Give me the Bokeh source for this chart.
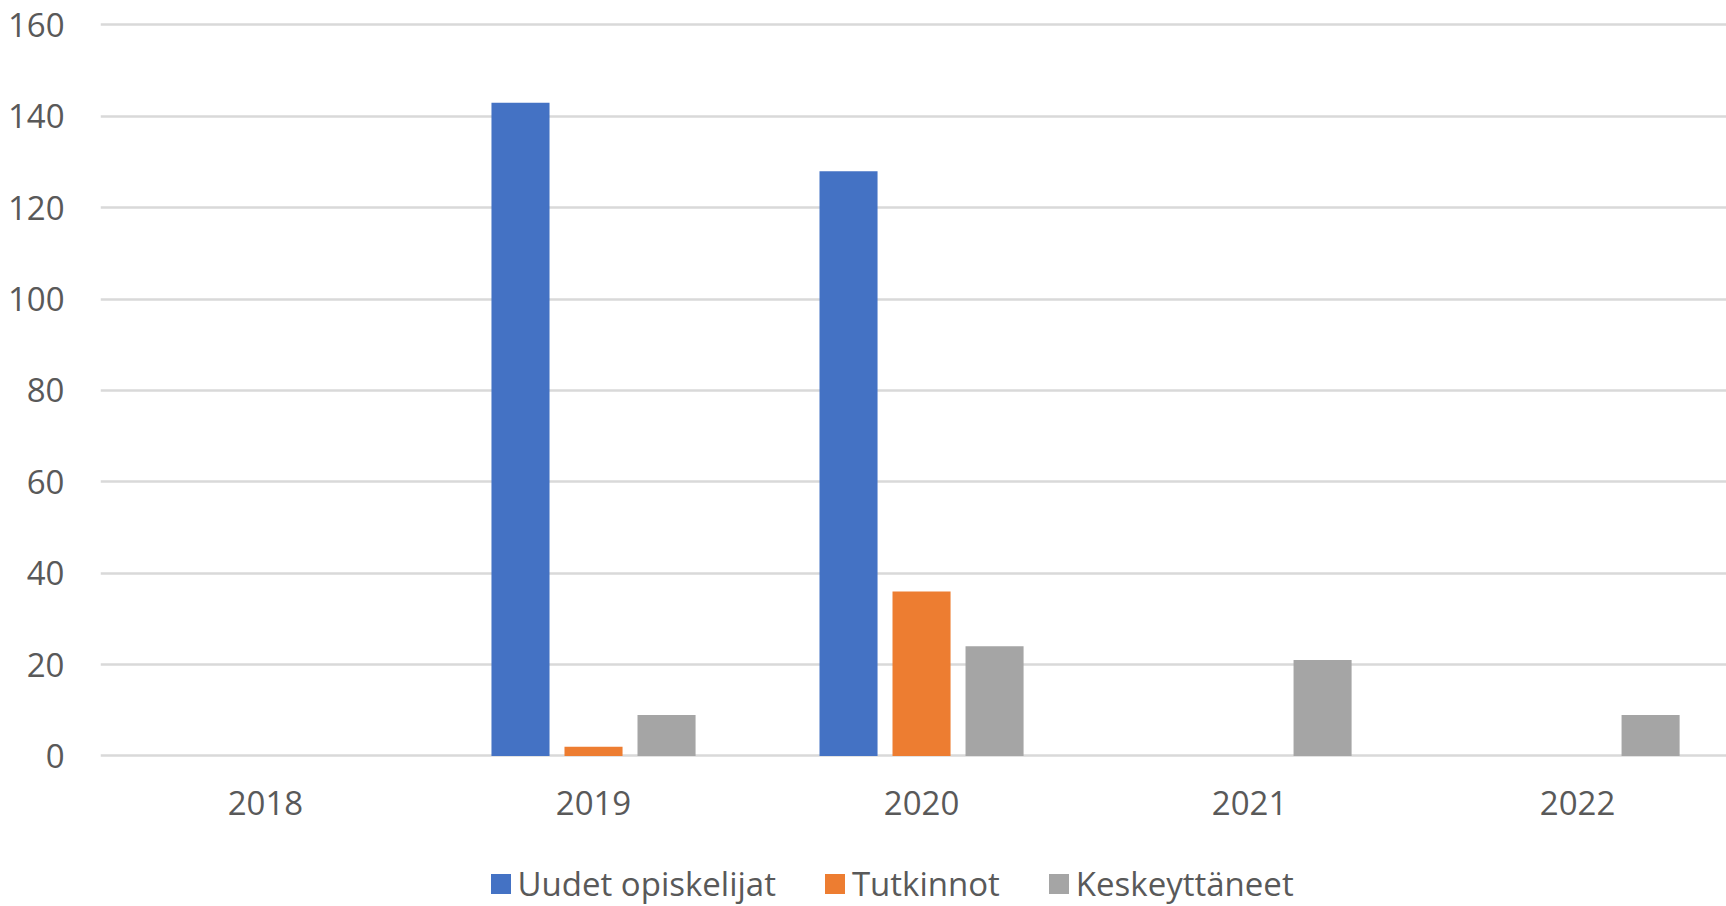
from bokeh.plotting import figure
from bokeh.layouts import column
from bokeh.models import Range1d, FixedTicker, Legend, LegendItem, ColumnDataSource
from bokeh.transform import dodge
from bokeh.embed import file_html
from bokeh.resources import INLINE

# ---- data ----
years = ["2018", "2019", "2020", "2021", "2022"]
uudet_opiskelijat = [0, 143, 128, 0, 0]
tutkinnot = [0, 2, 36, 0, 0]
keskeyttaneet = [0, 9, 24, 21, 9]
series_names = ["Uudet opiskelijat", "Tutkinnot", "Keskeyttäneet"]
y_ticks = [0, 20, 40, 60, 80, 100, 120, 140, 160]

# ---- style ----
COLORS = ["#4472C4", "#ED7D31", "#A5A5A5"]
FONT = "Open Sans"
TEXT = "#595959"
GRID = "#D9D9D9"
BAR_W = 0.177
OFFSET = 0.2226

source = ColumnDataSource(dict(
    x=list(range(len(years))),
    u=uudet_opiskelijat,
    t=tutkinnot,
    k=keskeyttaneet,
))

p = figure(
    width=1726, height=860,
    output_backend="svg", toolbar_location=None,
    x_range=Range1d(-0.503, 4.454),
    y_range=Range1d(-0.985, 161.86),
    min_border_left=100, min_border_right=0,
    min_border_top=16, min_border_bottom=100,
)
p.outline_line_color = None
p.background_fill_color = "white"
p.border_fill_color = "white"

for col, off, color in zip(["u", "t", "k"], [-OFFSET, 0.0, OFFSET], COLORS):
    p.vbar(x=dodge("x", off, range=p.x_range), top=col, bottom=0,
           width=BAR_W, source=source, fill_color=color, line_color=None)

# axes
p.xaxis.ticker = FixedTicker(ticks=list(range(len(years))))
p.xaxis.major_label_overrides = {i: y for i, y in enumerate(years)}
p.yaxis.ticker = FixedTicker(ticks=y_ticks)
for ax in (p.xaxis[0], p.yaxis[0]):
    ax.axis_line_color = None
    ax.major_tick_line_color = None
    ax.minor_tick_line_color = None
    ax.major_tick_in = 0
    ax.major_tick_out = 0
    ax.minor_tick_in = 0
    ax.minor_tick_out = 0
    ax.major_label_text_font = FONT
    ax.major_label_text_font_size = "33px"
    ax.major_label_text_color = TEXT
p.yaxis.major_label_standoff = 36
p.xaxis.major_label_standoff = 30

p.xgrid.visible = False
p.ygrid.ticker = FixedTicker(ticks=y_ticks)
p.ygrid.grid_line_color = GRID
p.ygrid.grid_line_width = 2.5

# ---- legend strip (own small figure below the chart) ----
lg = figure(
    width=1726, height=46,
    output_backend="svg", toolbar_location=None,
    x_range=Range1d(0, 1), y_range=Range1d(0, 1),
    min_border=0,
)
lg.axis.visible = False
lg.grid.visible = False
lg.outline_line_color = None
lg.background_fill_color = "white"
lg.border_fill_color = "white"

# swatch renderers (their single bar lies outside the strip's visible range)
legend_renderers = [
    lg.vbar(x=[-5], top=[-5], bottom=[-6], width=0.1, fill_color=c, line_color=None)
    for c in COLORS
]
legend = Legend(
    items=[LegendItem(label=n, renderers=[r]) for n, r in zip(series_names, legend_renderers)],
    orientation="horizontal", location=(387.5, 0),
    label_text_font=FONT, label_text_font_size="33px", label_text_color=TEXT,
    glyph_width=25, glyph_height=25, label_standoff=5, spacing=46,
    border_line_color=None, background_fill_alpha=0, padding=0, margin=0,
)
lg.add_layout(legend, "center")

layout = column(p, lg, spacing=0)
open("out.html", "w").write(file_html(layout, INLINE))
